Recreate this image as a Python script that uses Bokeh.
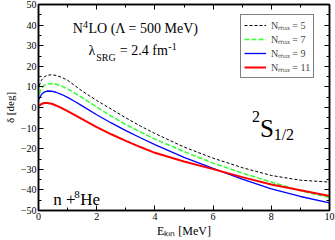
from bokeh.plotting import figure
from bokeh.models import Range1d, FixedTicker, LinearAxis, Label, Legend, LegendItem
from bokeh.embed import file_html
from bokeh.resources import INLINE

# ---- data ----
E_KIN = [0.02, 0.1, 0.2, 0.3, 0.45, 0.6, 0.8, 1.0, 1.25, 1.5, 2.0, 2.5, 3.0, 3.5, 4.0, 5.0, 6.0, 7.0, 8.0, 9.0, 10.0]
DELTA_N5 = [10.5, 13.2, 14.9, 15.6, 15.9, 15.6, 14.6, 13.2, 10.6, 8.0, 3.4, -0.8, -5.0, -9.0, -12.6, -19.2, -24.6, -29.2, -33.0, -35.3, -36.2]
DELTA_N7 = [6.5, 9.3, 10.8, 11.4, 11.6, 11.3, 10.4, 9.0, 7.0, 4.8, 0.2, -4.2, -8.2, -11.9, -15.3, -21.4, -27.0, -31.8, -36.2, -40.4, -43.7]
DELTA_N9 = [4.0, 6.3, 7.5, 8.0, 7.9, 7.4, 6.3, 4.9, 2.9, 0.8, -3.5, -7.5, -11.2, -14.7, -18.0, -24.2, -29.6, -34.8, -39.5, -43.2, -46.3]
DELTA_N11 = [0.8, 1.7, 2.2, 2.2, 1.8, 1.0, -0.3, -1.8, -3.7, -5.7, -9.5, -13.0, -16.2, -19.2, -22.0, -26.2, -29.9, -33.8, -37.4, -40.2, -43.0]
NMAX = ["5", "7", "9", "11"]
X_TICKS = [0, 2, 4, 6, 8, 10]
X_MINOR = [1, 3, 5, 7, 9]
Y_TICKS = [-50, -40, -30, -20, -10, 0, 10, 20, 30, 40, 50]
Y_MINOR = [-45, -35, -25, -15, -5, 5, 15, 25, 35, 45]
X_TITLE = "Eₖᵢₙ [MeV]"
Y_TITLE = "δ [deg]"

FONT = "Liberation Serif"
W, H = 335, 240
BL, BR, BT, BB = 32, 6, 4, 28
FW = W - BL - BR
FH = H - BT - BB

p = figure(width=W, height=H, x_range=Range1d(0, 10), y_range=Range1d(-50, 50),
           output_backend="svg", toolbar_location=None,
           min_border_left=BL, min_border_right=BR, min_border_top=BT, min_border_bottom=BB)
p.xgrid.visible = False
p.ygrid.visible = False
p.outline_line_color = "black"
p.outline_line_width = 1.5
p.background_fill_color = "white"
p.border_fill_color = "white"


def style_axis(ax, ticks, minor, labels=True):
    ax.ticker = FixedTicker(ticks=ticks, minor_ticks=minor)
    ax.major_tick_in = 5
    ax.major_tick_out = 0
    ax.minor_tick_in = 3
    ax.minor_tick_out = 0
    ax.axis_line_width = 1.5
    ax.major_tick_line_width = 1
    ax.minor_tick_line_width = 1
    ax.major_label_text_font = FONT
    ax.axis_label_text_font = FONT
    ax.axis_label_text_font_style = "normal"
    ax.axis_label_text_color = "black"
    if labels:
        ax.major_label_text_color = "black"
        ax.major_label_text_font_size = "10px"
        ax.major_label_standoff = 2
    else:
        ax.major_label_text_color = None
        ax.major_label_text_font_size = "0px"
        ax.major_label_standoff = 0


style_axis(p.xaxis[0], X_TICKS, X_MINOR)
style_axis(p.yaxis[0], Y_TICKS, Y_MINOR)
p.xaxis[0].axis_label = X_TITLE
p.xaxis[0].axis_label_text_font_size = "12px"
p.xaxis[0].axis_label_standoff = 1
p.yaxis[0].axis_label = Y_TITLE
p.yaxis[0].axis_label_text_font_size = "11px"
p.yaxis[0].axis_label_standoff = 2
top_ax = LinearAxis()
style_axis(top_ax, X_TICKS, X_MINOR, labels=False)
right_ax = LinearAxis()
style_axis(right_ax, Y_TICKS, Y_MINOR, labels=False)
p.add_layout(top_ax, "above")
p.add_layout(right_ax, "right")

r5 = p.line(E_KIN, DELTA_N5, line_color="black", line_width=1, line_dash="3 2")
r7 = p.line(E_KIN, DELTA_N7, line_color="#33ff33", line_width=1.5, line_dash="5 2")
r9 = p.line(E_KIN, DELTA_N9, line_color="#0000ff", line_width=1.3)
r11 = p.line(E_KIN, DELTA_N11, line_color="#ff0000", line_width=2)


def lab(x_ref, baseline_ref, text, size):
    # place text so that its baseline sits at the reference pixel row
    center_ref = baseline_ref - 0.34 * size
    x = (x_ref - BL) / FW * 10
    y = 50 - (center_ref - BT) / FH * 100
    p.add_layout(Label(x=x, y=y, text=text, text_font=FONT, text_font_size=f"{size}px",
                       text_align="left", text_baseline="middle", text_color="black"))


lab(67, 33, "N", 14)
lab(77.5, 27.5, "4", 10)
lab(83, 33, "LO (Λ = 500 MeV)", 14)
lab(83, 55, "λ", 14)
lab(91, 61, "SRG", 10)
lab(115, 55, "= 2.4 fm", 14)
lab(164.5, 49.5, "-1", 10)
lab(47, 207, "n +", 17)
lab(68.5, 199.5, "8", 11)
lab(74.5, 207, "He", 17)
lab(250, 123, "2", 16)
lab(258, 138, "S", 25)
lab(272, 140.5, "1/2", 16)

# legend
LEG_LEFT, LEG_TOP, PAD, ROW = 234, 18, 3, 14
legend = Legend(items=[LegendItem(label=f"Nₘₐₓ = {n}", renderers=[r]) for n, r in zip(NMAX, (r5, r7, r9, r11))],
                location=(float(LEG_LEFT - BL), float((BT + FH) - (LEG_TOP + 2 * PAD + 4 * ROW))),
                padding=PAD, spacing=0, margin=0,
                glyph_width=22, glyph_height=ROW, label_height=ROW, label_standoff=5, label_width=20,
                label_text_font=FONT, label_text_font_size="10px",
                border_line_color="black", border_line_width=1.2,
                background_fill_color="white", background_fill_alpha=1.0)
p.add_layout(legend)

open("out.html", "w").write(file_html(p, INLINE))
